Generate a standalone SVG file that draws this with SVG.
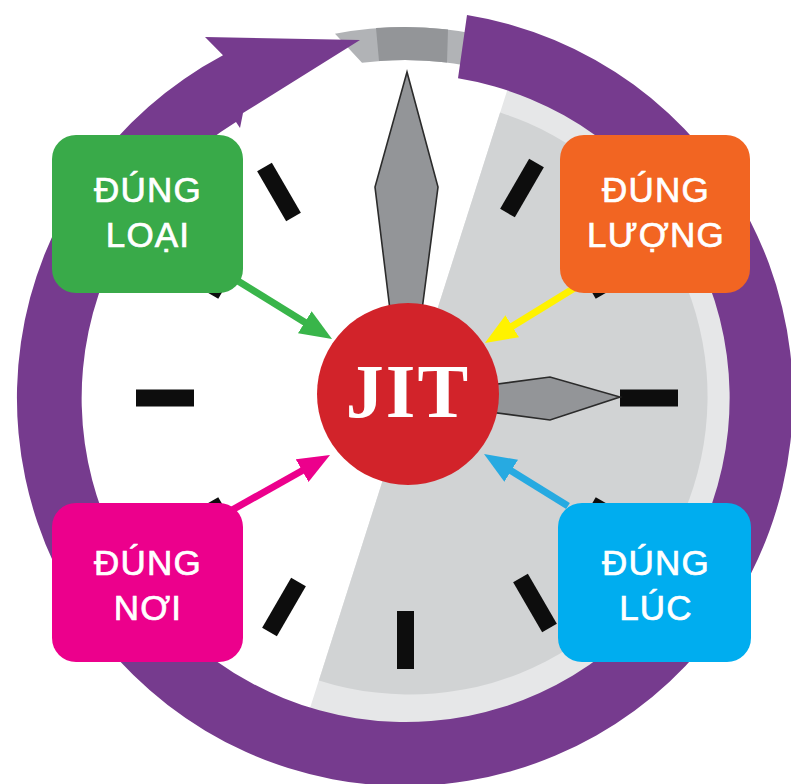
<svg xmlns="http://www.w3.org/2000/svg" width="791" height="784" viewBox="0 0 791 784">
<style>
.tick{fill:#0d0d0d}
.hand{fill:#939598;stroke:#2b2b2b;stroke-width:1.6;stroke-linejoin:miter}
.box{stroke:none}
.lbl{font-family:"Liberation Sans","Noto Sans",Arial,sans-serif;font-size:35px;fill:#ffffff;stroke:#ffffff;stroke-width:0.7px;text-anchor:middle;letter-spacing:1.2px}
.conn{fill:none;stroke-width:7}
</style>
<defs>
<marker id="hG" viewBox="0 0 32 26" refX="8" refY="13" markerWidth="32" markerHeight="26" markerUnits="userSpaceOnUse" orient="auto"><path d="M0,0 L32,13 L0,26 Z" fill="#39b54a"/></marker>
<marker id="hY" viewBox="0 0 32 26" refX="8" refY="13" markerWidth="32" markerHeight="26" markerUnits="userSpaceOnUse" orient="auto"><path d="M0,0 L32,13 L0,26 Z" fill="#fff200"/></marker>
<marker id="hP" viewBox="0 0 32 26" refX="8" refY="13" markerWidth="32" markerHeight="26" markerUnits="userSpaceOnUse" orient="auto"><path d="M0,0 L32,13 L0,26 Z" fill="#ec008c"/></marker>
<marker id="hB" viewBox="0 0 32 26" refX="8" refY="13" markerWidth="32" markerHeight="26" markerUnits="userSpaceOnUse" orient="auto"><path d="M0,0 L32,13 L0,26 Z" fill="#27aae1"/></marker>
</defs>
<rect x="0" y="0" width="791" height="784" fill="#ffffff"/>
<g id="clock-face">
<path d="M509,84.7 A330 330 0 0 1 308.3,713.6 Z" fill="#e6e7e8"/>
<path d="M500.1,112.5 A298 298 0 0 1 318.9,680.4 Z" fill="#d1d3d4"/>
<path d="M335,33.7 A371 371 0 0 1 480,34.7 L470,66.3 A338 338 0 0 0 362,62.7 Z" fill="#b1b3b6"/>
<path d="M376,28.1 A371 371 0 0 1 448,29.5 L447,62.6 A338 338 0 0 0 379,61 Z" fill="#939598"/>
</g>
<g id="cycle-arrow">
<path d="M467,15 A388 388 0 1 1 223,55.3 L205,37 L360,40 L243,113 L240,128 L236,122 A324 324 0 1 0 458,78.3 Z" fill="#763b8e"/>
</g>
<g id="ticks">
<rect class="tick" x="-8.5" y="-29" width="17" height="58" transform="translate(522,188) rotate(30)"/>
<rect class="tick" x="-8.5" y="-29" width="17" height="58" transform="translate(616.6,277) rotate(60)"/>
<rect class="tick" x="-8.5" y="-29" width="17" height="58" transform="translate(649,398) rotate(90)"/>
<rect class="tick" x="-8.5" y="-29" width="17" height="58" transform="translate(616.6,519) rotate(120)"/>
<rect class="tick" x="-8.5" y="-29" width="17" height="58" transform="translate(535,603) rotate(150)"/>
<rect class="tick" x="-8.5" y="-29" width="17" height="58" transform="translate(405.5,640) rotate(180)"/>
<rect class="tick" x="-8.5" y="-29" width="17" height="58" transform="translate(284,607) rotate(210)"/>
<rect class="tick" x="-8.5" y="-29" width="17" height="58" transform="translate(197.4,519) rotate(240)"/>
<rect class="tick" x="-8.5" y="-29" width="17" height="58" transform="translate(165,398) rotate(270)"/>
<rect class="tick" x="-8.5" y="-29" width="17" height="58" transform="translate(197.4,277) rotate(300)"/>
<rect class="tick" x="-8.5" y="-29" width="17" height="58" transform="translate(279,192) rotate(330)"/>
</g>
<g id="hands">
<polygon class="hand" points="407,72 438,187 422,310 390,310 375,187"/>
<polygon class="hand" points="490,385 550,377 620,397 550,420 490,412"/>
</g>
<g id="connectors">
<path class="conn" d="M238,281 L311.6,326.4" stroke="#39b54a" marker-end="url(#hG)"/>
<path class="conn" d="M581,284 L505.4,330.4" stroke="#fff200" marker-end="url(#hY)"/>
<path class="conn" d="M232,510 L309.1,466.7" stroke="#ec008c" marker-end="url(#hP)"/>
<path class="conn" d="M568,506 L504.4,466.6" stroke="#27aae1" marker-end="url(#hB)"/>
</g>
<g id="jit">
<circle cx="408" cy="394" r="91" fill="#d2232a"/>
<text x="408" y="417" font-family="'Liberation Serif','Times New Roman',serif" font-weight="bold" font-size="76" fill="#ffffff" text-anchor="middle" letter-spacing="2">JIT</text>
</g>
<g id="dung-loai">
<rect class="box" x="52" y="135" width="191" height="158" rx="24" fill="#39aa49"/>
<text class="lbl" x="148" y="202">ĐÚNG</text>
<text class="lbl" x="148" y="247">LOẠI</text>
</g>
<g id="dung-luong">
<rect class="box" x="560" y="135" width="190" height="158" rx="24" fill="#f26522"/>
<text class="lbl" x="656" y="202">ĐÚNG</text>
<text class="lbl" x="656" y="247">LƯỢNG</text>
</g>
<g id="dung-noi">
<rect class="box" x="52" y="503" width="191" height="159" rx="24" fill="#ec008c"/>
<text class="lbl" x="148" y="575">ĐÚNG</text>
<text class="lbl" x="148" y="620">NƠI</text>
</g>
<g id="dung-luc">
<rect class="box" x="558" y="503" width="193" height="159" rx="24" fill="#00adef"/>
<text class="lbl" x="656" y="575">ĐÚNG</text>
<text class="lbl" x="656" y="620">LÚC</text>
</g>
</svg>
